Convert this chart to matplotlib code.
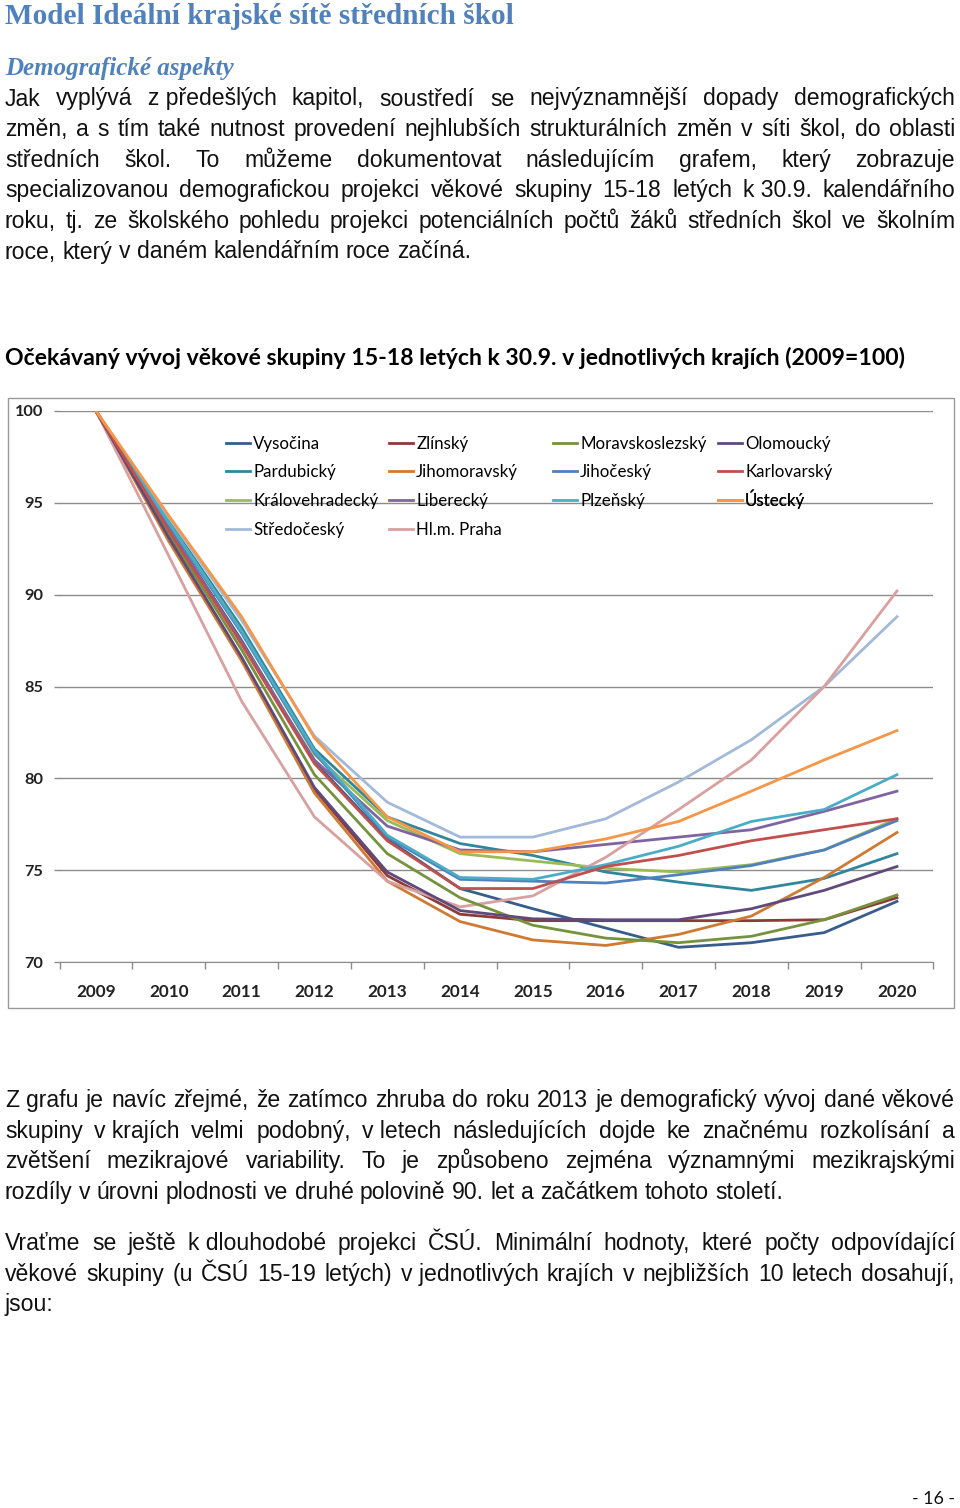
import matplotlib.pyplot as plt
from matplotlib.patches import Rectangle

W, H = 960, 1508

years = ['2009', '2010', '2011', '2012', '2013', '2014', '2015', '2016', '2017', '2018', '2019', '2020']
yticks = [70, 75, 80, 85, 90, 95, 100]

# index 2009 = 100
vysocina = [100, 93.6, 87.5, 80.9, 76.7, 74.0, 72.9, 71.85, 70.8, 71.05, 71.6, 73.3]
zlinsky = [100, 93.0, 86.5, 79.4, 74.7, 72.6, 72.25, 72.25, 72.25, 72.25, 72.3, 73.5]
moravskoslezsky = [100, 93.3, 87.0, 80.2, 75.9, 73.5, 72.0, 71.3, 71.05, 71.4, 72.3, 73.65]
olomoucky = [100, 93.1, 86.6, 79.5, 74.9, 72.8, 72.35, 72.3, 72.3, 72.9, 73.9, 75.2]
pardubicky = [100, 94.0, 88.2, 81.6, 77.9, 76.45, 75.8, 74.9, 74.35, 73.9, 74.55, 75.9]
jihomoravsky = [100, 92.9, 86.4, 79.2, 74.4, 72.2, 71.2, 70.9, 71.5, 72.5, 74.6, 77.05]
jihocesky = [100, 93.8, 87.9, 81.4, 76.8, 74.5, 74.4, 74.3, 74.75, 75.25, 76.1, 77.7]
karlovarsky = [100, 93.5, 87.3, 80.8, 76.6, 74.0, 74.0, 75.2, 75.8, 76.6, 77.2, 77.8]
kralovehradecky = [100, 93.9, 88.0, 81.3, 77.7, 75.9, 75.5, 75.1, 74.9, 75.3, 76.1, 77.8]
liberecky = [100, 93.6, 87.4, 81.0, 77.4, 76.1, 76.0, 76.4, 76.8, 77.2, 78.2, 79.3]
plzensky = [100, 93.9, 88.0, 81.5, 76.9, 74.6, 74.5, 75.3, 76.3, 77.65, 78.3, 80.2]
ustecky = [100, 94.3, 88.8, 82.2, 77.9, 76.0, 76.0, 76.7, 77.65, 79.3, 81.0, 82.6]
stredocesky = [100, 94.2, 88.6, 82.3, 78.7, 76.8, 76.8, 77.8, 79.8, 82.1, 85.0, 88.8]
praha = [100, 92.1, 84.2, 77.9, 74.4, 73.0, 73.6, 75.7, 78.3, 81.0, 85.0, 90.2]

# sloupce legendy (jak jsou v grafu)
legend_cols = [
    [('Vysočina', vysocina, '#385D8A'), ('Pardubický', pardubicky, '#31859C'),
     ('Královehradecký', kralovehradecky, '#9BBB59'), ('Středočeský', stredocesky, '#A3B9D9')],
    [('Zlínský', zlinsky, '#8E3A38'), ('Jihomoravský', jihomoravsky, '#CF7A33'),
     ('Liberecký', liberecky, '#8064A2'), ('Hl.m. Praha', praha, '#D8A09F')],
    [('Moravskoslezský', moravskoslezsky, '#76923C'), ('Jihočeský', jihocesky, '#4F81BD'),
     ('Plzeňský', plzensky, '#4BACC6')],
    [('Olomoucký', olomoucky, '#5F4A7B'), ('Karlovarský', karlovarsky, '#C0504D'),
     ('Ústecký', ustecky, '#F79646')],
]

fig = plt.figure(figsize=(W / 100, H / 100), dpi=100)
fig.patch.set_facecolor('white')
r = fig.canvas.get_renderer()

BODY = 'Liberation Sans'
BLUE = '#4F81BD'


def fx(x):
    return x / W


def fy(y):
    return 1 - y / H


def fit(t, width):
    w = t.get_window_extent(r).width
    t.set_fontsize(t.get_fontsize() * width / w)
    return t


def put_line(y, line, size, justify, x0=5, x1=955):
    words = line.split(' ')
    objs = [fig.text(0, fy(y), w, fontsize=size, family=BODY, color='#111111', va='baseline')
            for w in words]
    widths = [o.get_window_extent(r).width for o in objs]
    if justify and len(words) > 1:
        gap = (x1 - x0 - sum(widths)) / (len(words) - 1)
    else:
        a = fig.text(0, 0, 'x x', fontsize=size, family=BODY)
        b = fig.text(0, 0, 'xx', fontsize=size, family=BODY)
        gap = a.get_window_extent(r).width - b.get_window_extent(r).width
        a.remove()
        b.remove()
    x = x0
    for o, w in zip(objs, widths):
        o.set_x(fx(x))
        x += w + gap


def paragraph(y0, lines, size, step=30.6):
    for i, line in enumerate(lines):
        put_line(y0 + i * step, line, size, i < len(lines) - 1)


NB = '\u00a0'
par1 = [
    'Jak vyplývá z' + NB + 'předešlých kapitol, soustředí se nejvýznamnější dopady demografických',
    'změn, a s tím také nutnost provedení nejhlubších strukturálních změn v síti škol, do oblasti',
    'středních škol. To můžeme dokumentovat následujícím grafem, který zobrazuje',
    'specializovanou demografickou projekci věkové skupiny 15-18 letých k' + NB + '30.9. kalendářního',
    'roku, tj. ze školského pohledu projekci potenciálních počtů žáků středních škol ve školním',
    'roce, který v daném kalendářním roce začíná.',
]
par2 = [
    'Z grafu je navíc zřejmé, že zatímco zhruba do roku 2013 je demografický vývoj dané věkové',
    'skupiny v' + NB + 'krajích velmi podobný, v' + NB + 'letech následujících dojde ke značnému rozkolísání a',
    'zvětšení mezikrajové variability. To je způsobeno zejména významnými mezikrajskými',
    'rozdíly v úrovni plodnosti ve druhé polovině 90. let a začátkem tohoto století.',
]
par3 = [
    'Vraťme se ještě k' + NB + 'dlouhodobé projekci ČSÚ. Minimální hodnoty, které počty odpovídající',
    'věkové skupiny (u ČSÚ 15-19 letých) v' + NB + 'jednotlivých krajích v nejbližších 10 letech dosahují,',
    'jsou:',
]

# velikost písma podle posledního řádku odstavce
probe = fig.text(0, 0, par1[-1], fontsize=15, family=BODY)
body_size = 15 * 467 / probe.get_window_extent(r).width
probe.remove()

# nadpisy
t = fig.text(fx(5), fy(24), 'Model Ideální krajské sítě středních škol', fontsize=18,
             family='Liberation Serif', weight='bold', color=BLUE, va='baseline')
fit(t, 507)
t = fig.text(fx(5), fy(75), 'Demografické aspekty', fontsize=15,
             family='Liberation Serif', weight='bold', style='italic', color=BLUE, va='baseline')
fit(t, 229)

paragraph(105.5, par1, body_size)
paragraph(1107, par2, body_size)
paragraph(1250, par3, body_size)

t = fig.text(fx(5), fy(365), 'Očekávaný vývoj věkové skupiny 15-18 letých k 30.9. v jednotlivých krajích (2009=100)',
             fontsize=15, family='Lato', weight='bold', color='black', va='baseline')
fit(t, 902)

t = fig.text(fx(955), fy(1504), '- 16 -', fontsize=13, family='Lato', ha='right', va='baseline',
             color='#111111')
fit(t, 43)

# rámeček grafu
fig.patches.append(Rectangle((fx(8), fy(1008)), fx(954) - fx(8), fy(398) - fy(1008),
                             transform=fig.transFigure, fill=False, edgecolor='#9A9A9A', lw=1))

ax = fig.add_axes([fx(59.6), fy(962), fx(933.4) - fx(59.6), fy(411) - fy(962)])
x = list(range(len(years)))
handles = []
for col in legend_cols:
    hs = []
    for name, vals, color in col:
        h, = ax.plot(x, vals, color=color, lw=2.0, label=name, solid_joinstyle='round')
        hs.append(h)
    handles.append(hs)

ax.set_xlim(-0.5, 11.5)
ax.set_ylim(70, 100)
ax.set_yticks(yticks)
ax.set_yticklabels([str(v) for v in yticks], family='Lato', weight='bold', fontsize=11.8, color='#222222')
ax.set_xticks(x)
ax.set_xticklabels(years, family='Lato', weight='bold', fontsize=12.3, color='#222222')
ax.set_xticks([i - 0.5 for i in range(len(years) + 1)], minor=True)
ax.tick_params(axis='x', which='major', length=0, pad=16)
ax.tick_params(axis='x', which='minor', length=5, color='#8C8C8C', width=1)
ax.tick_params(axis='y', length=4, color='#8C8C8C', width=1, pad=8)
ax.grid(axis='y', color='#8C8C8C', lw=1)
for s in ['top', 'right', 'left']:
    ax.spines[s].set_visible(False)
ax.spines['bottom'].set_color('#8C8C8C')
ax.set_axisbelow(True)

# legenda: každá položka zvlášť, aby řádky seděly
col_x = [226, 389, 553, 718]
row_y = [443, 471, 500, 529]
for hs, cx in zip(handles, col_x):
    for h, ry in zip(hs, row_y):
        lg = ax.legend(handles=[h], loc='lower left', bbox_to_anchor=(fx(cx), fy(ry + 9)),
                       bbox_transform=fig.transFigure, frameon=False, borderpad=0,
                       borderaxespad=0, handlelength=1.42, handletextpad=0.18,
                       prop={'family': 'Lato', 'size': 12.2})
        ax.add_artist(lg)

fig.savefig('out.png', dpi=100)
